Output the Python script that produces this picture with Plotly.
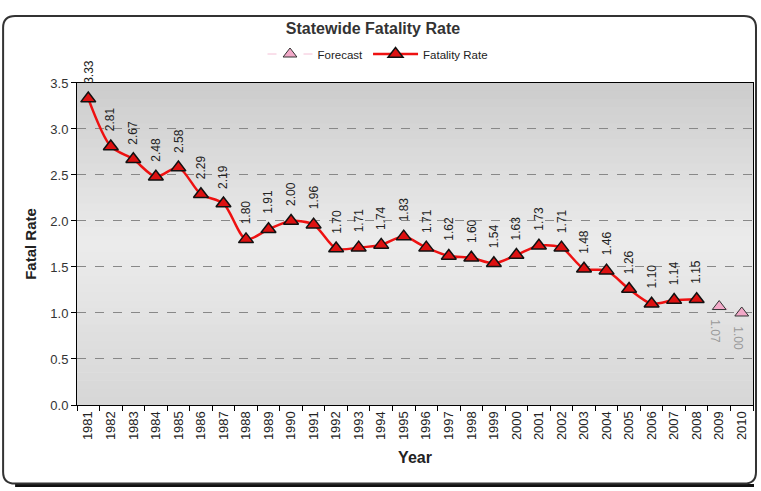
import plotly.graph_objects as go

years = [str(y) for y in range(1981, 2011)]
actual_years = years[:28]
actual_rate = [3.33, 2.81, 2.67, 2.48, 2.58, 2.29, 2.19, 1.80, 1.91, 2.00,
               1.96, 1.70, 1.71, 1.74, 1.83, 1.71, 1.62, 1.60, 1.54, 1.63,
               1.73, 1.71, 1.48, 1.46, 1.26, 1.10, 1.14, 1.15]
forecast_years = ["2009", "2010"]
forecast_rate = [1.07, 1.00]

W, H = 761, 491
L, R, T, B = 77, 7, 73, 86
pw, ph = W - L - R, H - T - B

def px(x):
    return (x - L) / pw

def py(y):
    return (H - B - y) / ph

fig = go.Figure()

fig.add_trace(go.Scatter(
    x=forecast_years, y=forecast_rate, name="Forecast",
    mode="lines+markers",
    line=dict(color="#f4c0d6", width=1, dash="dash"),
    marker=dict(symbol="triangle-up", size=12, color="#f2a9c8",
                line=dict(color="#333333", width=1)),
))
fig.add_trace(go.Scatter(
    x=actual_years, y=actual_rate, name="Fatality Rate",
    mode="lines+markers",
    line=dict(color="#ee1111", width=2.5, shape="spline", smoothing=0.8),
    marker=dict(symbol="triangle-up", size=13, color="#dd1111",
                line=dict(color="#111111", width=1.5)),
))

# value labels (category axis: position by category index)
for x, v in zip(actual_years, actual_rate):
    fig.add_annotation(x=years.index(x), y=v, text=f"{v:.2f}", textangle=-90,
                       showarrow=False, yanchor="bottom", yshift=13, xshift=0,
                       font=dict(size=12, color="#222222"))
for x, v in zip(forecast_years, forecast_rate):
    fig.add_annotation(x=years.index(x), y=v, text=f"{v:.2f}", textangle=90,
                       showarrow=False, yanchor="top", yshift=-11, xshift=-4,
                       font=dict(size=12, color="#999999"))

# plot area gradient background
stops = [(0.0, (204, 204, 204)), (0.5, (236, 236, 236)), (1.0, (214, 214, 214))]
def col(t):
    for (a, ca), (b, cb) in zip(stops, stops[1:]):
        if a <= t <= b:
            f = (t - a) / (b - a)
            return "rgb(%d,%d,%d)" % tuple(round(ca[i] + (cb[i] - ca[i]) * f) for i in range(3))
n = 40
for i in range(n):
    fig.add_shape(type="rect", xref="x domain", yref="y domain",
                  x0=0, x1=1, y0=i / n, y1=(i + 1) / n + 0.002,
                  fillcolor=col(1 - (i + 0.5) / n), line_width=0, layer="below")

# rounded outer frame with a dark shadow along the bottom
x0, x1, y0, y1, r = 3, 757, 4, 486, 12
path = (f"M {px(x0 + r)} {py(y0)} L {px(x1 - r)} {py(y0)} "
        f"Q {px(x1)} {py(y0)} {px(x1)} {py(y0 + r)} L {px(x1)} {py(y1 - r)} "
        f"Q {px(x1)} {py(y1)} {px(x1 - r)} {py(y1)} L {px(x0 + r)} {py(y1)} "
        f"Q {px(x0)} {py(y1)} {px(x0)} {py(y1 - r)} L {px(x0)} {py(y0 + r)} "
        f"Q {px(x0)} {py(y0)} {px(x0 + r)} {py(y0)} Z")
fig.add_shape(type="line", xref="paper", yref="paper",
              x0=px(x0 + r), x1=px(x1 - 2), y0=py(y1 + 2), y1=py(y1 + 2),
              line=dict(color="#111111", width=3), layer="below")
fig.add_shape(type="path", xref="paper", yref="paper", path=path,
              line=dict(color="#333333", width=2), layer="below")

fig.update_layout(
    width=W, height=H,
    margin=dict(l=L, r=R, t=T, b=B),
    paper_bgcolor="white", plot_bgcolor="rgba(0,0,0,0)",
    font=dict(family="Arial, Liberation Sans, sans-serif", color="#222222"),
    title=dict(text="<b>Statewide Fatality Rate</b>", x=373 / W, xanchor="center",
               yref="container", y=1 - 28 / H, yanchor="middle",
               font=dict(size=16, color="#333333")),
    legend=dict(orientation="h", xref="container", x=378 / W, xanchor="center",
                yref="container", y=1 - 54 / H, yanchor="middle",
                font=dict(size=11.5, color="#222222"), bgcolor="rgba(0,0,0,0)",
                itemwidth=45),
    xaxis=dict(type="category", categoryorder="array", categoryarray=years,
               range=[-0.5, 29.5], tickangle=-90, tickson="boundaries",
               ticks="outside", ticklen=5, tickcolor="#000",
               showline=True, linecolor="#000", linewidth=1, mirror=True,
               showgrid=False, tickfont=dict(size=13, color="#222"),
               title=dict(text="<b>Year</b>", font=dict(size=16), standoff=12)),
    yaxis=dict(range=[0, 3.5], dtick=0.5, tickformat=".1f",
               ticks="outside", ticklen=5, tickcolor="#000",
               showline=True, linecolor="#000", linewidth=1, mirror=True,
               showgrid=True, gridcolor="#888888", griddash="dash", gridwidth=1,
               zeroline=False, tickfont=dict(size=13, color="#333"),
               title=dict(text="<b>Fatal Rate</b>", font=dict(size=15), standoff=10)),
    showlegend=True,
)

fig.write_html("out.html", config={"displayModeBar": False},
               post_script="document.body.style.margin='0px';")
